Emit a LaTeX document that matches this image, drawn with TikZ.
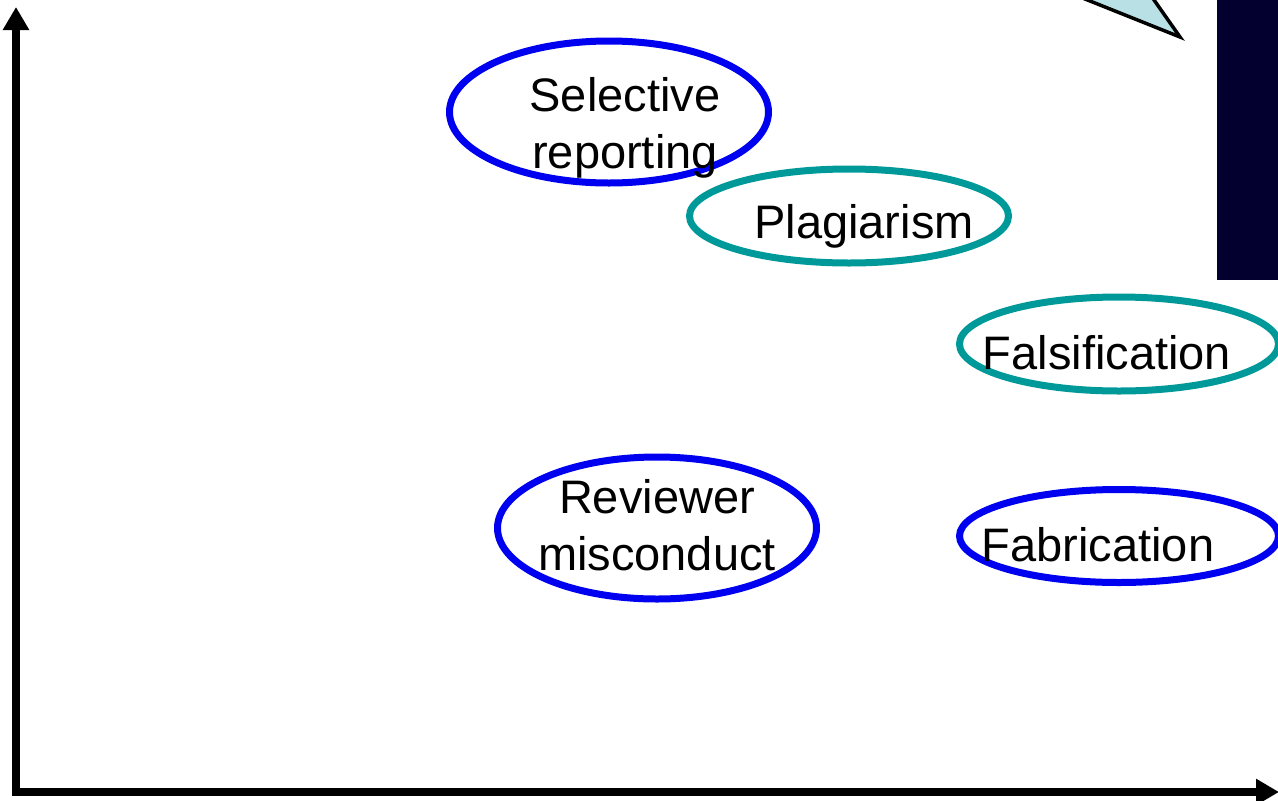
\documentclass[tikz,border=0pt]{standalone}
\usepackage{fontspec}
\setmainfont{Liberation Sans}
\usetikzlibrary{arrows.meta,shapes.geometric}
\definecolor{ovalblue}{RGB}{0,0,240}
\definecolor{ovalteal}{RGB}{0,153,153}
\definecolor{calloutfill}{RGB}{185,224,228}
\definecolor{darknavy}{RGB}{3,0,48}
\tikzset{
  oval/.style={ellipse, draw, line width=7pt, inner sep=0pt},
  blueoval/.style={oval, draw=ovalblue},
  tealoval/.style={oval, draw=ovalteal},
  lbl/.style={font=\fontsize{47}{57}\selectfont, align=center, inner sep=0pt, text=black},
  axis/.style={line width=8pt, -{Triangle[length=23pt,width=25pt]}},
}
\begin{document}
\begin{tikzpicture}[x=1pt,y=-1pt]
\useasboundingbox (0,0) rectangle (1278,801);
\clip (0,0) rectangle (1278,801);
% dark panel and callout tail
\fill[darknavy] (1217,-5) rectangle (1285,280);
\filldraw[fill=calloutfill, draw=black, line width=3.5pt, line join=miter]
  (1080,-3) -- (1180,37) -- (1140,-20) -- cycle;
% axes
\coordinate (o) at (16,792);
\coordinate (ytip) at (16,7);
\coordinate (xtip) at (1279,792);
\draw[axis] ([yshift=4pt]o) -- (ytip);
\draw[axis] ([xshift=-4pt]o) -- (xtip);
% ovals
\node[blueoval, minimum width=319pt, minimum height=142pt] (sel) at (609,112) {};
\node[tealoval, minimum width=319pt, minimum height=94pt] (pla) at (849,216) {};
\node[tealoval, minimum width=319pt, minimum height=94pt] (fal) at (1119,344) {};
\node[blueoval, minimum width=319pt, minimum height=142pt] (rev) at (657,528) {};
\node[blueoval, minimum width=319pt, minimum height=93pt] (fab) at (1119,536) {};
% labels
\node[lbl] (selt) at (625,128) {Selective\\reporting};
\node[lbl] (plat) at (864,226) {Plagiarism};
\node[lbl] (falt) at (1107,353) {Falsification};
\node[lbl] (revt) at (657,525) {Reviewer\\misconduct};
\node[lbl] (fabt) at (1098,545) {Fabrication};
\end{tikzpicture}
\end{document}
